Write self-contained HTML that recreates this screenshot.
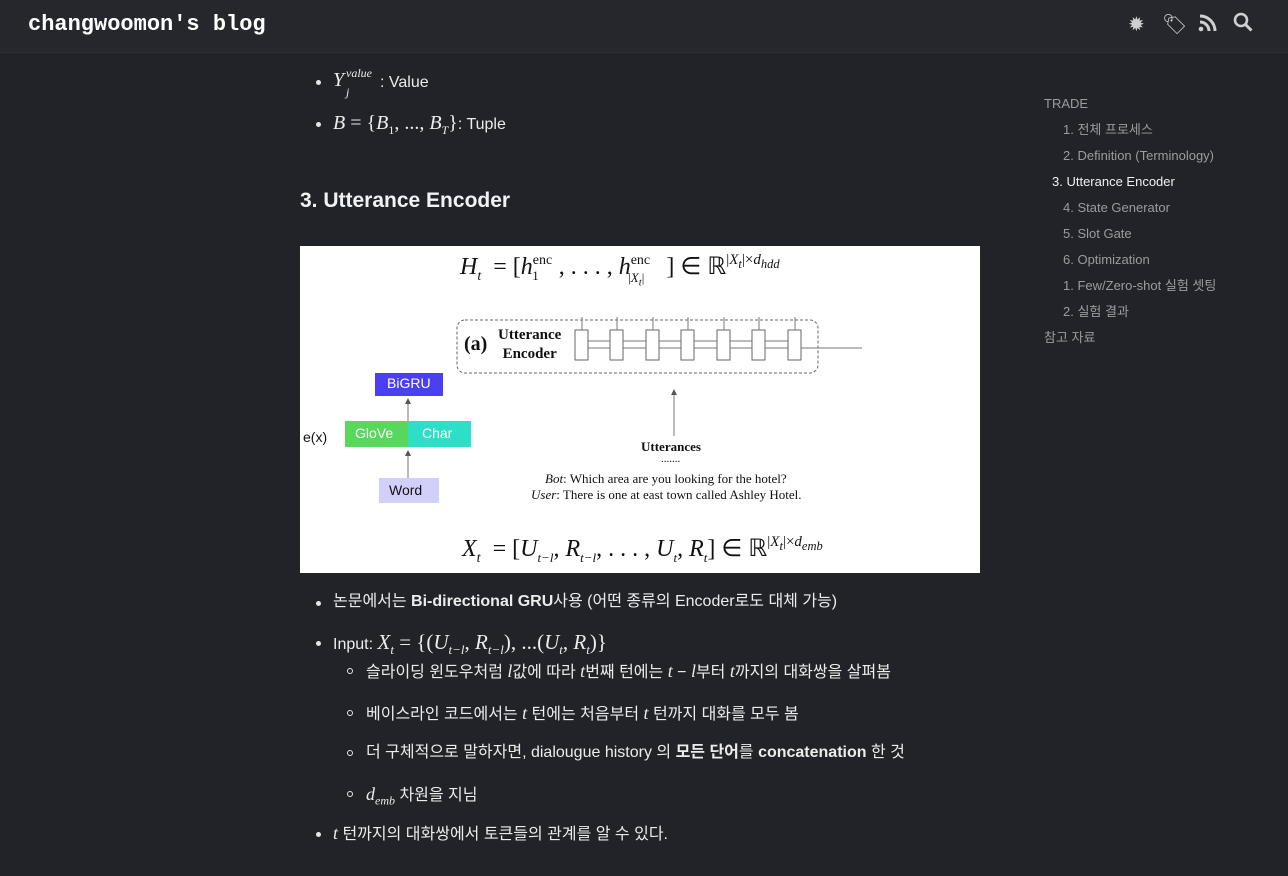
<!DOCTYPE html>
<html><head><meta charset="utf-8"><style>
*{margin:0;padding:0;box-sizing:border-box}
body{width:1288px;height:876px;overflow:hidden;background:#212328;font-family:"Liberation Sans","Noto Sans CJK KR",sans-serif;color:#ececec;position:relative}
.a{position:absolute;white-space:nowrap}
.hdr{position:absolute;left:0;top:0;width:1288px;height:53px;background:#25272c;border-bottom:1px solid #2e3035}
.m{font-family:"Liberation Serif",serif;font-style:italic}
.t{font-size:16px;line-height:22px;height:22px}
.toc{font-size:13px;color:#9a9ca0;line-height:16px;height:16px}
.dot{position:absolute;width:5px;height:5px;border-radius:50%;background:#e6e6e6}
.cir{position:absolute;width:6px;height:6px;border-radius:50%;border:1px solid #e6e6e6}
.img{position:absolute;left:300px;top:246px;width:680px;height:327px;background:#fff;color:#111;overflow:hidden}
.s{font-family:"Liberation Serif",serif}
</style></head><body>
<div class="hdr"></div>
<div class="a" style="left:28px;top:12px;font-family:'Liberation Mono',monospace;font-weight:bold;font-size:22px;color:#fff">changwoomon's blog</div>
<div class="a" style="left:1128px;top:12px;font-size:20px;color:#d0d0d0">✹</div>
<div class="a" style="left:1162px;top:12px;font-size:20px;color:#d0d0d0">🏷</div>
<svg class="a" style="left:1198px;top:13px" width="20" height="20"><circle cx="3" cy="16" r="2.3" fill="#d0d0d0"/><path d="M2 9a9 9 0 0 1 9 9M2 3a15 15 0 0 1 15 15" stroke="#d0d0d0" stroke-width="3" fill="none"/></svg>
<svg class="a" style="left:1233px;top:12px" width="22" height="22"><circle cx="8" cy="8" r="6" stroke="#d0d0d0" stroke-width="2.6" fill="none"/><path d="M12.5 12.5l6 6" stroke="#d0d0d0" stroke-width="3"/></svg>

<div class="dot" style="left:316px;top:80px"></div>
<div class="a m" style="left:333px;top:69px;font-size:20px">Y</div>
<div class="a m" style="left:346px;top:85px;font-size:12px">j</div>
<div class="a m" style="left:346px;top:66px;font-size:12px">value</div>
<div class="a t" style="left:380px;top:72px">: Value</div>
<div class="dot" style="left:316px;top:122px"></div>
<div class="a t" style="left:333px;top:112px"><span style="font-size:20px;font-family:'Liberation Serif'"><i>B</i> = {<i>B</i><sub style="font-size:12px">1</sub>, ..., <i>B<sub style="font-size:12px">T</sub></i>}</span>: Tuple</div>

<div class="a" style="left:300px;top:189px;font-size:21px;font-weight:bold;color:#f2f2f2">3. Utterance Encoder</div>

<div class="img">
<div class="a s" style="left:160px;top:6px;font-size:24px"><i>H<sub style="font-size:14px">t</sub></i> &nbsp;= [<i>h</i><span style="font-size:14px;position:relative;top:-10px">enc</span><span style="font-size:13px;position:relative;top:6px;left:-20px">1</span>, . . . , <i>h</i><span style="font-size:14px;position:relative;top:-10px">enc</span><span style="font-size:13px;position:relative;top:8px;left:-22px">|<i>X<sub>t</sub></i>|</span>] ∈ ℝ<span style="font-size:15px;position:relative;top:-10px">|<i>X<sub>t</sub></i>|×<i>d<sub>hdd</sub></i></span></div>
<svg class="a" style="left:0;top:0" width="680" height="327">
<rect x="157" y="74" width="361" height="53" rx="8" fill="none" stroke="#666" stroke-dasharray="3,2"/>
<g stroke="#666" fill="#fff">
<rect x="275" y="84" width="13" height="30"/><rect x="310" y="84" width="13" height="30"/><rect x="346" y="84" width="13" height="30"/><rect x="381" y="84" width="13" height="30"/><rect x="417" y="84" width="13" height="30"/><rect x="452" y="84" width="13" height="30"/><rect x="488" y="84" width="13" height="30"/>
</g>
<g stroke="#777" stroke-width="1">
<path d="M282 71v13M317 71v13M353 71v13M388 71v13M424 71v13M459 71v13M495 71v13"/>
<path d="M288 95h22M323 95h23M359 95h22M394 95h23M430 95h22M465 95h23"/>
<path d="M288 102h22M323 102h23M359 102h22M394 102h23M430 102h22M465 102h23"/>
<path d="M501 102h61"/>
<path d="M374 190v-44"/>
<path d="M108 198v-42"/><path d="M108 232v-24"/>
</g>
<path d="M374 143l-3 6h6z M108 152l-3 6h6z M108 204l-3 6h6z" fill="#555"/>
<rect x="75" y="127" width="68" height="23" fill="#4b3ff2"/>
<rect x="45" y="175" width="63" height="26" fill="#57d75c"/>
<rect x="108" y="175" width="63" height="26" fill="#2ddfc6"/>
<rect x="79" y="232" width="60" height="25" fill="#d2d0fa"/>
</svg>
<div class="a s" style="left:164px;top:87px;font-size:20px;font-weight:bold">(a)</div>
<div class="a s" style="left:198px;top:80px;font-size:15px;font-weight:bold;text-align:center;line-height:19px">Utterance<br>Encoder</div>
<div class="a" style="left:87px;top:129px;font-size:14px;color:#fff">BiGRU</div>
<div class="a" style="left:55px;top:179px;font-size:14px;color:#fff">GloVe</div>
<div class="a" style="left:122px;top:179px;font-size:14px;color:#fff">Char</div>
<div class="a" style="left:89px;top:236px;font-size:14px;color:#111">Word</div>
<div class="a" style="left:3px;top:183px;font-size:14px">e(x)</div>
<div class="a s" style="left:341px;top:193px;font-size:13px;font-weight:bold">Utterances</div>
<div class="a s" style="left:361px;top:207px;font-size:11px">.......</div>
<div class="a s" style="left:245px;top:225px;font-size:13px"><i>Bot</i>: Which area are you looking for the hotel?</div>
<div class="a s" style="left:231px;top:241px;font-size:13px"><i>User</i>: There is one at east town called Ashley Hotel.</div>
<div class="a s" style="left:162px;top:288px;font-size:24px"><i>X<sub style="font-size:14px">t</sub></i> &nbsp;= [<i>U<sub style="font-size:13px">t−l</sub></i>, <i>R<sub style="font-size:13px">t−l</sub></i>, . . . , <i>U<sub style="font-size:13px">t</sub></i>, <i>R<sub style="font-size:13px">t</sub></i>] ∈ ℝ<span style="font-size:15px;position:relative;top:-10px">|<i>X<sub>t</sub></i>|×<i>d<sub>emb</sub></i></span></div>
</div>

<div class="dot" style="left:316px;top:601px"></div>
<div class="a t" style="left:333px;top:591px">논문에서는 <b>Bi-directional GRU</b>사용 (어떤 종류의 Encoder로도 대체 가능)</div>
<div class="dot" style="left:316px;top:641px"></div>
<div class="a t" style="left:333px;top:631px">Input: <span class="s" style="font-size:21px"><i>X<sub style="font-size:13px">t</sub></i> = {(<i>U<sub style="font-size:13px">t−l</sub></i>, <i>R<sub style="font-size:13px">t−l</sub></i>), ...(<i>U<sub style="font-size:13px">t</sub></i>, <i>R<sub style="font-size:13px">t</sub></i>)}</span></div>
<div class="cir" style="left:347px;top:668px"></div>
<div class="a t" style="left:366px;top:660px">슬라이딩 윈도우처럼 <i class="s" style="font-size:18px">l</i>값에 따라 <i class="s" style="font-size:18px">t</i>번째 턴에는 <i class="s" style="font-size:18px">t</i> − <i class="s" style="font-size:18px">l</i>부터 <i class="s" style="font-size:18px">t</i>까지의 대화쌍을 살펴봄</div>
<div class="cir" style="left:347px;top:710px"></div>
<div class="a t" style="left:366px;top:702px">베이스라인 코드에서는 <i class="s" style="font-size:18px">t</i> 턴에는 처음부터 <i class="s" style="font-size:18px">t</i> 턴까지 대화를 모두 봄</div>
<div class="cir" style="left:347px;top:750px"></div>
<div class="a t" style="left:366px;top:742px">더 구체적으로 말하자면, dialougue history 의 <b>모든 단어</b>를 <b>concatenation</b> 한 것</div>
<div class="cir" style="left:347px;top:791px"></div>
<div class="a t" style="left:366px;top:783px"><i class="s" style="font-size:18px">d<sub style="font-size:12px">emb</sub></i> 차원을 지님</div>
<div class="dot" style="left:316px;top:832px"></div>
<div class="a t" style="left:333px;top:822px"><i class="s" style="font-size:18px">t</i> 턴까지의 대화쌍에서 토큰들의 관계를 알 수 있다.</div>

<div class="a toc" style="left:1044px;top:96px">TRADE</div>
<div class="a toc" style="left:1063px;top:122px">1. 전체 프로세스</div>
<div class="a toc" style="left:1063px;top:148px">2. Definition (Terminology)</div>
<div class="a toc" style="left:1052px;top:174px;color:#f0f0f0">3. Utterance Encoder</div>
<div class="a toc" style="left:1063px;top:200px">4. State Generator</div>
<div class="a toc" style="left:1063px;top:226px">5. Slot Gate</div>
<div class="a toc" style="left:1063px;top:252px">6. Optimization</div>
<div class="a toc" style="left:1063px;top:278px">1. Few/Zero-shot 실험 셋팅</div>
<div class="a toc" style="left:1063px;top:304px">2. 실험 결과</div>
<div class="a toc" style="left:1044px;top:330px">참고 자료</div>
</body></html>
